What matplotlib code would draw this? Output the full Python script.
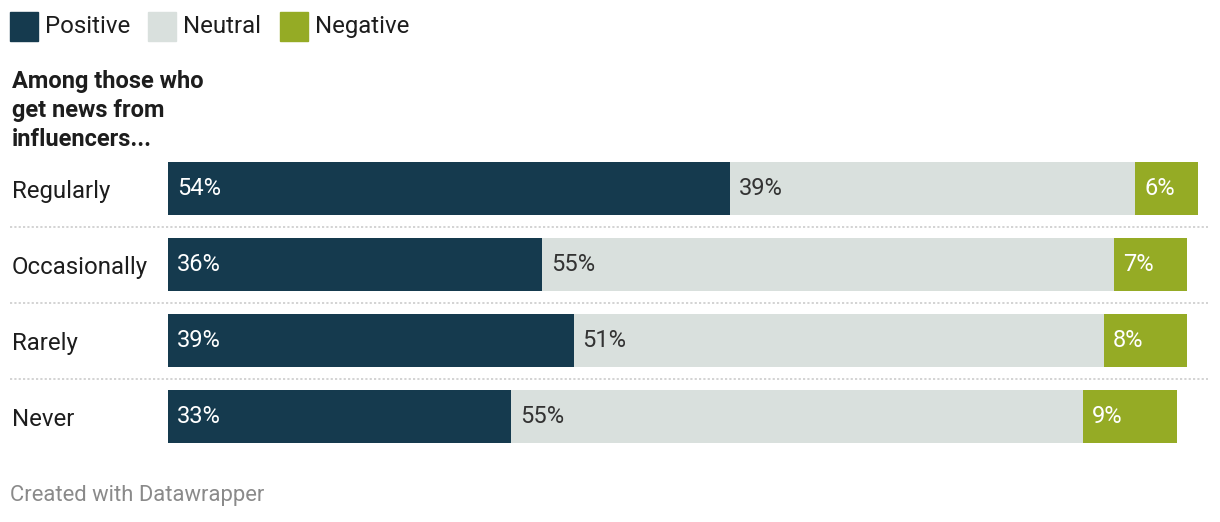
import matplotlib.pyplot as plt
from matplotlib.patches import Rectangle
import matplotlib.transforms as mtransforms

# Data
categories = ["Regularly", "Occasionally", "Rarely", "Never"]
positive = [54, 36, 39, 33]
neutral = [39, 55, 51, 55]
negative = [6, 7, 8, 9]
series_names = ["Positive", "Neutral", "Negative"]

colors = ["#153a4e", "#d9e0dd", "#95ab25"]
text_colors = ["white", "#333333", "white"]

plt.rcParams['font.family'] = ['Roboto', 'DejaVu Sans']

W, H = 1220, 522
fig = plt.figure(figsize=(W / 100, H / 100), dpi=100)

# axes placed in pixel terms: 100% spans 168..1208 px, rows span 162..443 px
ax = fig.add_axes([168 / W, (H - 443) / H, 1040 / W, 281 / H])
bar_h = 53 / 76
ax.set_xlim(0, 100)
ax.set_ylim(len(categories) - 1 + bar_h / 2, -bar_h / 2)
ax.axis('off')

ypos = list(range(len(categories)))
left = [0] * len(categories)
for vals, col, tcol in zip([positive, neutral, negative], colors, text_colors):
    ax.barh(ypos, vals, left=left, height=bar_h, color=col, edgecolor='none')
    for y, l, v in zip(ypos, left, vals):
        ax.annotate(f"{v}%", xy=(l, y), xytext=(6.5, 0), textcoords='offset points',
                    ha='left', va='center', fontsize=17, color=tcol)
    left = [a + b for a, b in zip(left, vals)]

# row labels
trans = mtransforms.blended_transform_factory(fig.transFigure, ax.transData)
for y, cat in zip(ypos, categories):
    ax.text(12 / W, y + 0.04, cat, transform=trans, ha='left', va='center',
            fontsize=17.3, color='#1d1d1d')

# dotted separators
for y in ypos[:-1]:
    ax.axhline(y + 0.5, xmin=-158 / 1040, xmax=1.0, color='#d0d0d0',
               linestyle=(0, (1.2, 1.2)), linewidth=1.3, clip_on=False)

# legend
legend_x = [10, 148, 280]
for x0, name, col in zip(legend_x, series_names, colors):
    fig.patches.append(Rectangle((x0 / W, (H - 41) / H), 28 / W, 29 / H,
                                 transform=fig.transFigure, color=col))
    fig.text((x0 + 35) / W, (H - 26.5) / H, name, ha='left', va='center',
             fontsize=17.3, color='#1d1d1d')

# title
fig.text(12 / W, (H - 70) / H, "Among those who\nget news from\ninfluencers...",
         ha='left', va='top', fontsize=17, fontweight='bold', color='#1d1d1d',
         linespacing=1.32)

# footer
fig.text(10 / W, (H - 496) / H, "Created with Datawrapper", ha='left', va='center',
         fontsize=15.8, color='#8a8a8a')

fig.savefig("out.png", dpi=100, facecolor='white')
